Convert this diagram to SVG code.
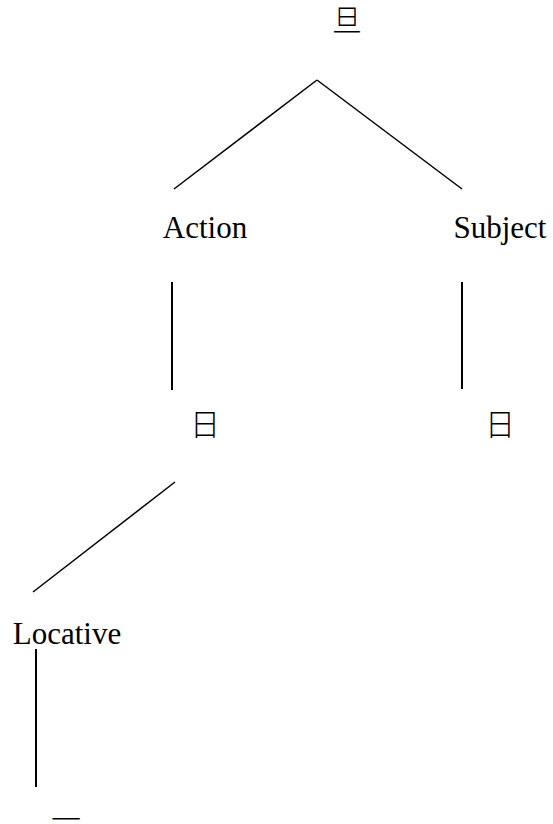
<svg xmlns="http://www.w3.org/2000/svg" width="553" height="824" viewBox="0 0 553 824">
<style>
.lbl{font-family:"Liberation Serif","Noto Sans CJK SC",serif;font-size:31px;fill:#000;text-anchor:middle}
.cjk{font-family:"Noto Sans CJK SC","Noto Sans CJK JP",sans-serif;font-size:30px;font-weight:300;fill:#000;text-anchor:middle}
.e{stroke:#000;stroke-width:1.5;fill:none}
.v{stroke:#000;stroke-width:2;fill:none}
</style>
<rect width="553" height="824" fill="#fff"/>
<g id="connectors">
<line class="e" x1="317" y1="80" x2="174" y2="189"/>
<line class="e" x1="317" y1="80" x2="462" y2="189"/>
<line class="v" x1="172" y1="282" x2="172" y2="390"/>
<line class="v" x1="462" y1="282" x2="462" y2="389"/>
<line class="e" x1="175" y1="482" x2="33" y2="592"/>
<line class="v" x1="36" y1="649" x2="36" y2="787"/>
</g>
<g id="root"><text class="cjk" x="347" y="31">旦</text></g>
<g id="action"><text class="lbl" x="205" y="238">Action</text></g>
<g id="subject"><text class="lbl" x="500" y="238">Subject</text></g>
<g id="action-child"><text class="cjk" x="205" y="435">日</text></g>
<g id="subject-child"><text class="cjk" x="500" y="435">日</text></g>
<g id="locative"><text class="lbl" x="67" y="644">Locative</text></g>
<g id="locative-child"><text class="cjk" x="66" y="830">一</text></g>
</svg>
